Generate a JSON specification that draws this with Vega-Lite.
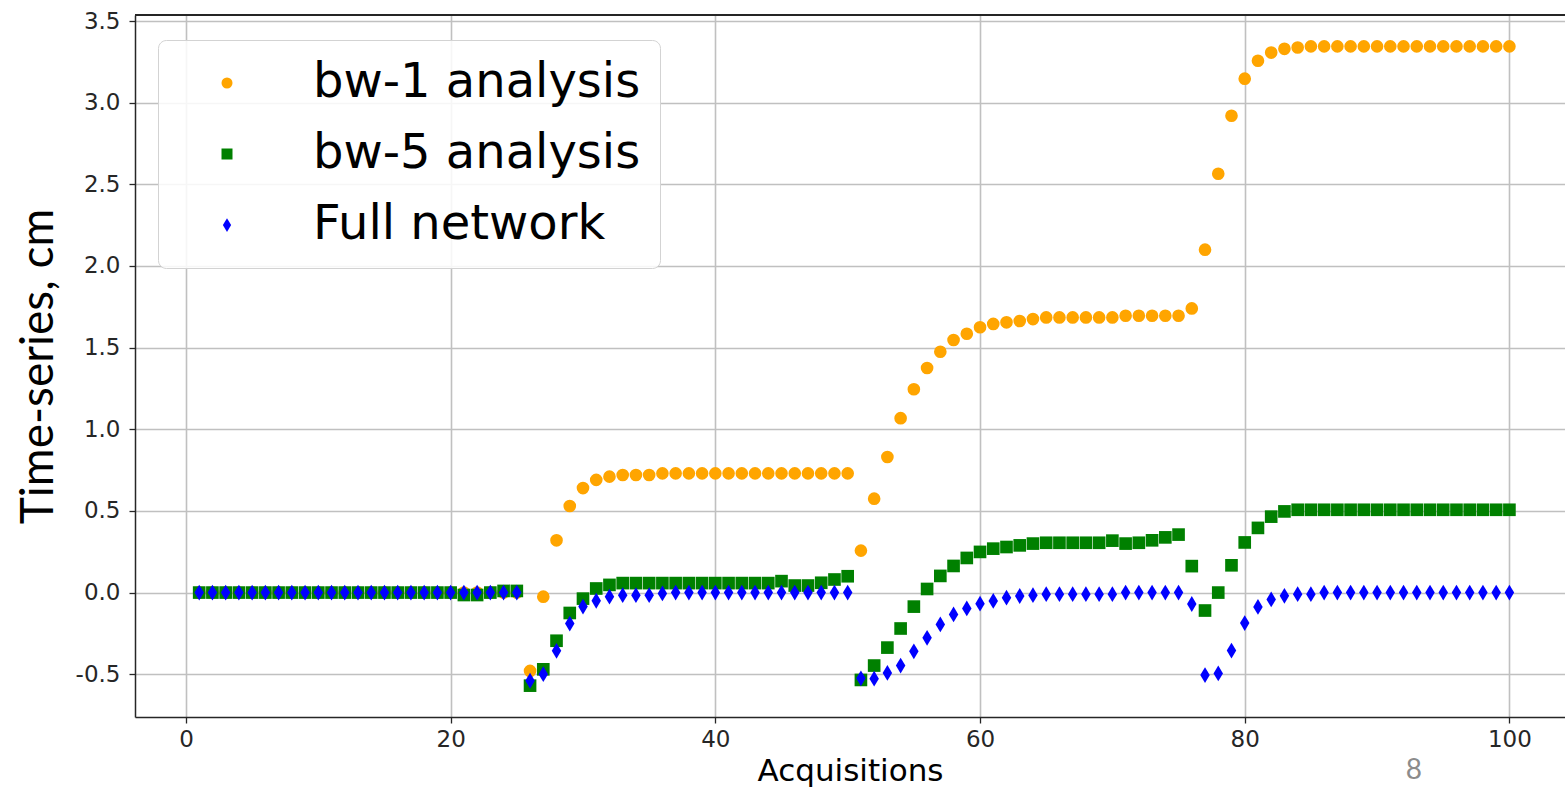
{
  "$schema": "https://vega.github.io/schema/vega-lite/v6.json",
  "autosize": {"type": "none"},
  "padding": {"left": 135, "top": 15, "right": 0, "bottom": 72},
  "width": 1430,
  "height": 702,
  "background": "white",
  "title": {"text": "8", "orient": "bottom", "anchor": "end", "frame": "group", "dx": -143, "dy": -33, "fontSize": 28, "font": "Lato", "fontWeight": "normal", "color": "#8c8c8c"},
  "config": {
    "font": "DejaVu Sans",
    "view": {"stroke": null},
    "axis": {"labelFont": "DejaVu Sans", "labelFontSize": 23, "labelColor": "#262626", "tickColor": "#262626", "tickSize": 6, "tickWidth": 1.3, "domainColor": "#262626", "domainWidth": 1.5, "gridColor": "#c0c0c0", "gridWidth": 1.6, "titleColor": "black", "titleFontWeight": "normal"}
  },
  "data": {"values": [
    {"s":"bw-1 analysis","x":1,"y":0},{"s":"bw-1 analysis","x":2,"y":0},{"s":"bw-1 analysis","x":3,"y":0},{"s":"bw-1 analysis","x":4,"y":0},{"s":"bw-1 analysis","x":5,"y":0},
    {"s":"bw-1 analysis","x":6,"y":0},{"s":"bw-1 analysis","x":7,"y":0},{"s":"bw-1 analysis","x":8,"y":0},{"s":"bw-1 analysis","x":9,"y":0},{"s":"bw-1 analysis","x":10,"y":0},
    {"s":"bw-1 analysis","x":11,"y":0},{"s":"bw-1 analysis","x":12,"y":0},{"s":"bw-1 analysis","x":13,"y":0},{"s":"bw-1 analysis","x":14,"y":0},{"s":"bw-1 analysis","x":15,"y":0},
    {"s":"bw-1 analysis","x":16,"y":0},{"s":"bw-1 analysis","x":17,"y":0},{"s":"bw-1 analysis","x":18,"y":0},{"s":"bw-1 analysis","x":19,"y":0},{"s":"bw-1 analysis","x":20,"y":0},
    {"s":"bw-1 analysis","x":21,"y":0},{"s":"bw-1 analysis","x":22,"y":0},{"s":"bw-1 analysis","x":23,"y":0},{"s":"bw-1 analysis","x":24,"y":0},{"s":"bw-1 analysis","x":25,"y":0},
    {"s":"bw-1 analysis","x":26,"y":-0.48},{"s":"bw-1 analysis","x":27,"y":-0.025},{"s":"bw-1 analysis","x":28,"y":0.32},{"s":"bw-1 analysis","x":29,"y":0.53},{"s":"bw-1 analysis","x":30,"y":0.64},
    {"s":"bw-1 analysis","x":31,"y":0.69},{"s":"bw-1 analysis","x":32,"y":0.71},{"s":"bw-1 analysis","x":33,"y":0.72},{"s":"bw-1 analysis","x":34,"y":0.72},{"s":"bw-1 analysis","x":35,"y":0.72},
    {"s":"bw-1 analysis","x":36,"y":0.73},{"s":"bw-1 analysis","x":37,"y":0.73},{"s":"bw-1 analysis","x":38,"y":0.73},{"s":"bw-1 analysis","x":39,"y":0.73},{"s":"bw-1 analysis","x":40,"y":0.73},
    {"s":"bw-1 analysis","x":41,"y":0.73},{"s":"bw-1 analysis","x":42,"y":0.73},{"s":"bw-1 analysis","x":43,"y":0.73},{"s":"bw-1 analysis","x":44,"y":0.73},{"s":"bw-1 analysis","x":45,"y":0.73},
    {"s":"bw-1 analysis","x":46,"y":0.73},{"s":"bw-1 analysis","x":47,"y":0.73},{"s":"bw-1 analysis","x":48,"y":0.73},{"s":"bw-1 analysis","x":49,"y":0.73},{"s":"bw-1 analysis","x":50,"y":0.73},
    {"s":"bw-1 analysis","x":51,"y":0.257},{"s":"bw-1 analysis","x":52,"y":0.575},{"s":"bw-1 analysis","x":53,"y":0.83},{"s":"bw-1 analysis","x":54,"y":1.068},{"s":"bw-1 analysis","x":55,"y":1.245},
    {"s":"bw-1 analysis","x":56,"y":1.375},{"s":"bw-1 analysis","x":57,"y":1.475},{"s":"bw-1 analysis","x":58,"y":1.547},{"s":"bw-1 analysis","x":59,"y":1.585},{"s":"bw-1 analysis","x":60,"y":1.625},
    {"s":"bw-1 analysis","x":61,"y":1.645},{"s":"bw-1 analysis","x":62,"y":1.655},{"s":"bw-1 analysis","x":63,"y":1.663},{"s":"bw-1 analysis","x":64,"y":1.675},{"s":"bw-1 analysis","x":65,"y":1.685},
    {"s":"bw-1 analysis","x":66,"y":1.685},{"s":"bw-1 analysis","x":67,"y":1.685},{"s":"bw-1 analysis","x":68,"y":1.685},{"s":"bw-1 analysis","x":69,"y":1.685},{"s":"bw-1 analysis","x":70,"y":1.685},
    {"s":"bw-1 analysis","x":71,"y":1.695},{"s":"bw-1 analysis","x":72,"y":1.695},{"s":"bw-1 analysis","x":73,"y":1.695},{"s":"bw-1 analysis","x":74,"y":1.695},{"s":"bw-1 analysis","x":75,"y":1.695},
    {"s":"bw-1 analysis","x":76,"y":1.74},{"s":"bw-1 analysis","x":77,"y":2.1},{"s":"bw-1 analysis","x":78,"y":2.565},{"s":"bw-1 analysis","x":79,"y":2.92},{"s":"bw-1 analysis","x":80,"y":3.147},
    {"s":"bw-1 analysis","x":81,"y":3.257},{"s":"bw-1 analysis","x":82,"y":3.307},{"s":"bw-1 analysis","x":83,"y":3.33},{"s":"bw-1 analysis","x":84,"y":3.338},{"s":"bw-1 analysis","x":85,"y":3.345},
    {"s":"bw-1 analysis","x":86,"y":3.345},{"s":"bw-1 analysis","x":87,"y":3.345},{"s":"bw-1 analysis","x":88,"y":3.345},{"s":"bw-1 analysis","x":89,"y":3.345},{"s":"bw-1 analysis","x":90,"y":3.345},
    {"s":"bw-1 analysis","x":91,"y":3.345},{"s":"bw-1 analysis","x":92,"y":3.345},{"s":"bw-1 analysis","x":93,"y":3.345},{"s":"bw-1 analysis","x":94,"y":3.345},{"s":"bw-1 analysis","x":95,"y":3.345},
    {"s":"bw-1 analysis","x":96,"y":3.345},{"s":"bw-1 analysis","x":97,"y":3.345},{"s":"bw-1 analysis","x":98,"y":3.345},{"s":"bw-1 analysis","x":99,"y":3.345},{"s":"bw-1 analysis","x":100,"y":3.345},

    {"s":"bw-5 analysis","x":1,"y":0},{"s":"bw-5 analysis","x":2,"y":0},{"s":"bw-5 analysis","x":3,"y":0},{"s":"bw-5 analysis","x":4,"y":0},{"s":"bw-5 analysis","x":5,"y":0},
    {"s":"bw-5 analysis","x":6,"y":0},{"s":"bw-5 analysis","x":7,"y":0},{"s":"bw-5 analysis","x":8,"y":0},{"s":"bw-5 analysis","x":9,"y":0},{"s":"bw-5 analysis","x":10,"y":0},
    {"s":"bw-5 analysis","x":11,"y":0},{"s":"bw-5 analysis","x":12,"y":0},{"s":"bw-5 analysis","x":13,"y":0},{"s":"bw-5 analysis","x":14,"y":0},{"s":"bw-5 analysis","x":15,"y":0},
    {"s":"bw-5 analysis","x":16,"y":0},{"s":"bw-5 analysis","x":17,"y":0},{"s":"bw-5 analysis","x":18,"y":0},{"s":"bw-5 analysis","x":19,"y":0},{"s":"bw-5 analysis","x":20,"y":0},
    {"s":"bw-5 analysis","x":21,"y":-0.015},{"s":"bw-5 analysis","x":22,"y":-0.015},{"s":"bw-5 analysis","x":23,"y":0},{"s":"bw-5 analysis","x":24,"y":0.01},{"s":"bw-5 analysis","x":25,"y":0.01},
    {"s":"bw-5 analysis","x":26,"y":-0.57},{"s":"bw-5 analysis","x":27,"y":-0.47},{"s":"bw-5 analysis","x":28,"y":-0.295},{"s":"bw-5 analysis","x":29,"y":-0.125},{"s":"bw-5 analysis","x":30,"y":-0.037},
    {"s":"bw-5 analysis","x":31,"y":0.025},{"s":"bw-5 analysis","x":32,"y":0.047},{"s":"bw-5 analysis","x":33,"y":0.058},{"s":"bw-5 analysis","x":34,"y":0.058},{"s":"bw-5 analysis","x":35,"y":0.058},
    {"s":"bw-5 analysis","x":36,"y":0.058},{"s":"bw-5 analysis","x":37,"y":0.058},{"s":"bw-5 analysis","x":38,"y":0.058},{"s":"bw-5 analysis","x":39,"y":0.058},{"s":"bw-5 analysis","x":40,"y":0.058},
    {"s":"bw-5 analysis","x":41,"y":0.058},{"s":"bw-5 analysis","x":42,"y":0.058},{"s":"bw-5 analysis","x":43,"y":0.058},{"s":"bw-5 analysis","x":44,"y":0.058},{"s":"bw-5 analysis","x":45,"y":0.07},
    {"s":"bw-5 analysis","x":46,"y":0.043},{"s":"bw-5 analysis","x":47,"y":0.043},{"s":"bw-5 analysis","x":48,"y":0.06},{"s":"bw-5 analysis","x":49,"y":0.08},{"s":"bw-5 analysis","x":50,"y":0.1},
    {"s":"bw-5 analysis","x":51,"y":-0.535},{"s":"bw-5 analysis","x":52,"y":-0.447},{"s":"bw-5 analysis","x":53,"y":-0.337},{"s":"bw-5 analysis","x":54,"y":-0.22},{"s":"bw-5 analysis","x":55,"y":-0.086},
    {"s":"bw-5 analysis","x":56,"y":0.022},{"s":"bw-5 analysis","x":57,"y":0.102},{"s":"bw-5 analysis","x":58,"y":0.163},{"s":"bw-5 analysis","x":59,"y":0.212},{"s":"bw-5 analysis","x":60,"y":0.249},
    {"s":"bw-5 analysis","x":61,"y":0.269},{"s":"bw-5 analysis","x":62,"y":0.279},{"s":"bw-5 analysis","x":63,"y":0.289},{"s":"bw-5 analysis","x":64,"y":0.3},{"s":"bw-5 analysis","x":65,"y":0.305},
    {"s":"bw-5 analysis","x":66,"y":0.305},{"s":"bw-5 analysis","x":67,"y":0.305},{"s":"bw-5 analysis","x":68,"y":0.305},{"s":"bw-5 analysis","x":69,"y":0.305},{"s":"bw-5 analysis","x":70,"y":0.318},
    {"s":"bw-5 analysis","x":71,"y":0.3},{"s":"bw-5 analysis","x":72,"y":0.305},{"s":"bw-5 analysis","x":73,"y":0.32},{"s":"bw-5 analysis","x":74,"y":0.338},{"s":"bw-5 analysis","x":75,"y":0.355},
    {"s":"bw-5 analysis","x":76,"y":0.162},{"s":"bw-5 analysis","x":77,"y":-0.11},{"s":"bw-5 analysis","x":78,"y":0},{"s":"bw-5 analysis","x":79,"y":0.167},{"s":"bw-5 analysis","x":80,"y":0.307},
    {"s":"bw-5 analysis","x":81,"y":0.396},{"s":"bw-5 analysis","x":82,"y":0.465},{"s":"bw-5 analysis","x":83,"y":0.497},{"s":"bw-5 analysis","x":84,"y":0.507},{"s":"bw-5 analysis","x":85,"y":0.507},
    {"s":"bw-5 analysis","x":86,"y":0.507},{"s":"bw-5 analysis","x":87,"y":0.507},{"s":"bw-5 analysis","x":88,"y":0.507},{"s":"bw-5 analysis","x":89,"y":0.507},{"s":"bw-5 analysis","x":90,"y":0.507},
    {"s":"bw-5 analysis","x":91,"y":0.507},{"s":"bw-5 analysis","x":92,"y":0.507},{"s":"bw-5 analysis","x":93,"y":0.507},{"s":"bw-5 analysis","x":94,"y":0.507},{"s":"bw-5 analysis","x":95,"y":0.507},
    {"s":"bw-5 analysis","x":96,"y":0.507},{"s":"bw-5 analysis","x":97,"y":0.507},{"s":"bw-5 analysis","x":98,"y":0.507},{"s":"bw-5 analysis","x":99,"y":0.507},{"s":"bw-5 analysis","x":100,"y":0.507},

    {"s":"Full network","x":1,"y":0},{"s":"Full network","x":2,"y":0},{"s":"Full network","x":3,"y":0},{"s":"Full network","x":4,"y":0},{"s":"Full network","x":5,"y":0},
    {"s":"Full network","x":6,"y":0},{"s":"Full network","x":7,"y":0},{"s":"Full network","x":8,"y":0},{"s":"Full network","x":9,"y":0},{"s":"Full network","x":10,"y":0},
    {"s":"Full network","x":11,"y":0},{"s":"Full network","x":12,"y":0},{"s":"Full network","x":13,"y":0},{"s":"Full network","x":14,"y":0},{"s":"Full network","x":15,"y":0},
    {"s":"Full network","x":16,"y":0},{"s":"Full network","x":17,"y":0},{"s":"Full network","x":18,"y":0},{"s":"Full network","x":19,"y":0},{"s":"Full network","x":20,"y":0},
    {"s":"Full network","x":21,"y":0},{"s":"Full network","x":22,"y":0},{"s":"Full network","x":23,"y":0},{"s":"Full network","x":24,"y":0},{"s":"Full network","x":25,"y":0},
    {"s":"Full network","x":26,"y":-0.54},{"s":"Full network","x":27,"y":-0.5},{"s":"Full network","x":28,"y":-0.357},{"s":"Full network","x":29,"y":-0.19},{"s":"Full network","x":30,"y":-0.086},
    {"s":"Full network","x":31,"y":-0.05},{"s":"Full network","x":32,"y":-0.025},{"s":"Full network","x":33,"y":-0.016},{"s":"Full network","x":34,"y":-0.016},{"s":"Full network","x":35,"y":-0.016},
    {"s":"Full network","x":36,"y":-0.005},{"s":"Full network","x":37,"y":0},{"s":"Full network","x":38,"y":0},{"s":"Full network","x":39,"y":0},{"s":"Full network","x":40,"y":0},
    {"s":"Full network","x":41,"y":0},{"s":"Full network","x":42,"y":0},{"s":"Full network","x":43,"y":0},{"s":"Full network","x":44,"y":0},{"s":"Full network","x":45,"y":0},
    {"s":"Full network","x":46,"y":0},{"s":"Full network","x":47,"y":0},{"s":"Full network","x":48,"y":0},{"s":"Full network","x":49,"y":0},{"s":"Full network","x":50,"y":0},
    {"s":"Full network","x":51,"y":-0.525},{"s":"Full network","x":52,"y":-0.527},{"s":"Full network","x":53,"y":-0.492},{"s":"Full network","x":54,"y":-0.447},{"s":"Full network","x":55,"y":-0.36},
    {"s":"Full network","x":56,"y":-0.277},{"s":"Full network","x":57,"y":-0.195},{"s":"Full network","x":58,"y":-0.134},{"s":"Full network","x":59,"y":-0.097},{"s":"Full network","x":60,"y":-0.068},
    {"s":"Full network","x":61,"y":-0.051},{"s":"Full network","x":62,"y":-0.031},{"s":"Full network","x":63,"y":-0.021},{"s":"Full network","x":64,"y":-0.016},{"s":"Full network","x":65,"y":-0.01},
    {"s":"Full network","x":66,"y":-0.01},{"s":"Full network","x":67,"y":-0.01},{"s":"Full network","x":68,"y":-0.01},{"s":"Full network","x":69,"y":-0.01},{"s":"Full network","x":70,"y":-0.01},
    {"s":"Full network","x":71,"y":0},{"s":"Full network","x":72,"y":0},{"s":"Full network","x":73,"y":0},{"s":"Full network","x":74,"y":0},{"s":"Full network","x":75,"y":0},
    {"s":"Full network","x":76,"y":-0.07},{"s":"Full network","x":77,"y":-0.505},{"s":"Full network","x":78,"y":-0.495},{"s":"Full network","x":79,"y":-0.355},{"s":"Full network","x":80,"y":-0.187},
    {"s":"Full network","x":81,"y":-0.088},{"s":"Full network","x":82,"y":-0.042},{"s":"Full network","x":83,"y":-0.02},{"s":"Full network","x":84,"y":-0.01},{"s":"Full network","x":85,"y":-0.01},
    {"s":"Full network","x":86,"y":0},{"s":"Full network","x":87,"y":0},{"s":"Full network","x":88,"y":0},{"s":"Full network","x":89,"y":0},{"s":"Full network","x":90,"y":0},
    {"s":"Full network","x":91,"y":0},{"s":"Full network","x":92,"y":0},{"s":"Full network","x":93,"y":0},{"s":"Full network","x":94,"y":0},{"s":"Full network","x":95,"y":0},
    {"s":"Full network","x":96,"y":0},{"s":"Full network","x":97,"y":0},{"s":"Full network","x":98,"y":0},{"s":"Full network","x":99,"y":0},{"s":"Full network","x":100,"y":0}
  ]},
  "layer": [
    {
      "mark": {"type": "point", "filled": true, "opacity": 1, "size": 160, "strokeWidth": 0},
      "encoding": {
        "x": {"field": "x", "type": "quantitative", "title": "Acquisitions",
              "scale": {"domain": [-3.85, 104.2], "nice": false, "zero": false},
              "axis": {"values": [0, 20, 40, 60, 80, 100], "grid": true, "labelPadding": 5, "titleFont": "DejaVu Sans", "titleFontSize": 31, "titlePadding": 5, "domain": true}},
        "y": {"field": "y", "type": "quantitative", "title": "Time-series, cm",
              "scale": {"domain": [-0.762, 3.537], "nice": false, "zero": false},
              "axis": {"values": [-0.5, 0, 0.5, 1, 1.5, 2, 2.5, 3, 3.5], "grid": true, "format": ".1f", "labelExpr": "replace(datum.label, '\u2212', '-')", "labelPadding": 9, "titleFont": "Lato", "titleFontSize": 46, "titlePadding": 13, "domain": true}},
        "color": {"field": "s", "type": "nominal",
                  "scale": {"domain": ["bw-1 analysis", "bw-5 analysis", "Full network"], "range": ["#FFA500", "#008000", "#0000FF"]},
                  "legend": {"title": null, "orient": "none", "legendX": 23, "legendY": 25,
                             "labelFont": "DejaVu Sans", "labelFontSize": 48, "labelColor": "black",
                             "padding": 19, "rowPadding": 23, "symbolOffset": 26, "labelOffset": 62,
                             "symbolSize": 121, "cornerRadius": 8, "strokeColor": "#d3d3d3", "fillColor": "rgba(255,255,255,0.85)",
                             "labelLimit": 1000,
                             "symbolStrokeWidth": 0,
                             "encode": {"symbols": {"update": {"size": {"value": 121}}}}}},
        "shape": {"field": "s", "type": "nominal",
                  "scale": {"domain": ["bw-1 analysis", "bw-5 analysis", "Full network"], "range": ["circle", "square", "M0,-1.25L0.75,0L0,1.25L-0.75,0Z"]},
                  "legend": null}
      }
    },
    {
      "mark": {"type": "rule", "color": "#262626", "strokeWidth": 1.5},
      "encoding": {"y": {"datum": 3.537, "type": "quantitative"}}
    }
  ]
}
